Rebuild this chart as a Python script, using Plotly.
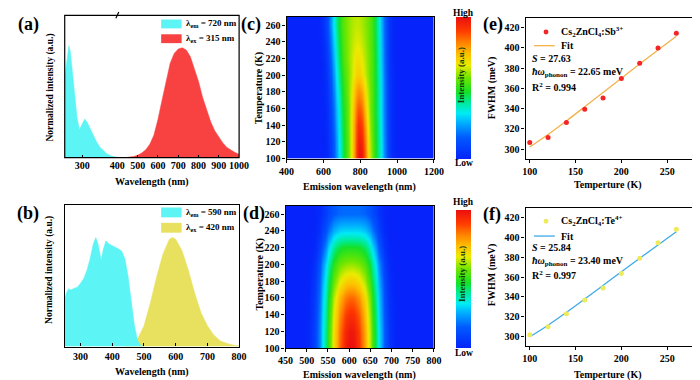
import numpy as np
import plotly.graph_objects as go

W, H = 700, 380
FONT = "Liberation Serif"


def px(x):
    return x / W


def py(y):
    return 1 - y / H


# ---------------- data ----------------
# (a) Cs2ZnCl4:Sb3+ excitation / emission
a_ex_wl = [250, 253, 257, 262, 266, 270, 275, 280, 285, 292, 300, 307, 315, 322, 330, 340, 350, 360, 370, 380, 390, 400]
a_ex_int = [0.72, 0.80, 0.92, 1.0, 0.95, 0.82, 0.64, 0.47, 0.36, 0.25, 0.30, 0.345, 0.31, 0.26, 0.21, 0.145, 0.095, 0.06, 0.035, 0.018, 0.007, 0.0]
a_em_wl = [440, 460, 480, 500, 520, 540, 560, 580, 600, 620, 640, 660, 680, 700, 720, 740, 760, 780, 800, 820, 840, 860, 880, 900, 920, 940, 960, 980, 1000]
a_em_int = [0.0, 0.004, 0.01, 0.02, 0.04, 0.07, 0.12, 0.2, 0.34, 0.51, 0.69, 0.84, 0.93, 0.97, 0.98, 0.96, 0.90, 0.79, 0.68, 0.54, 0.43, 0.32, 0.24, 0.18, 0.13, 0.09, 0.065, 0.045, 0.03]

# (b) Cs2ZnCl4:Te4+ excitation / emission
b_ex_wl = [250, 255, 262, 270, 280, 290, 300, 310, 320, 330, 340, 348, 355, 365, 372, 380, 390, 400, 410, 420, 430, 440, 450, 460, 470, 480, 490, 500]
b_ex_int = [0.435, 0.49, 0.53, 0.52, 0.535, 0.545, 0.58, 0.625, 0.70, 0.805, 0.94, 1.0, 0.94, 0.795, 0.895, 0.97, 0.94, 0.925, 0.915, 0.895, 0.874, 0.805, 0.64, 0.40, 0.19, 0.054, 0.01, 0.0]
b_em_wl = [440, 450, 480, 500, 520, 540, 560, 580, 590, 600, 620, 640, 660, 680, 700, 720, 740, 760, 780, 800]
b_em_int = [0.0, 0.003, 0.07, 0.19, 0.40, 0.64, 0.85, 0.985, 1.0, 0.985, 0.88, 0.70, 0.49, 0.31, 0.19, 0.105, 0.054, 0.03, 0.015, 0.006]

# (c), (d) temperature-dependent emission maps, read per temperature:
# band centre (nm), broad-band half width (nm), broad-band level, core level, core width (nm)
temps = [100, 120, 140, 160, 180, 200, 220, 240, 260]
c_center = [800, 799, 797, 795, 793, 790, 787, 784, 781]
c_width = [133, 133, 134, 135, 136, 137, 138, 140, 142]
c_broad = [0.55, 0.55, 0.55, 0.55, 0.56, 0.57, 0.58, 0.58, 0.58]
c_core = [0.45, 0.42, 0.38, 0.32, 0.24, 0.14, 0.10, 0.07, 0.05]
c_core_w = [30, 30, 30, 30, 30, 30, 30, 30, 30]
d_center = [604, 604, 604, 604, 604, 604, 604, 604, 604]
d_width = [73, 73, 72, 71, 70, 68, 64, 62, 62]
d_broad = [0.55, 0.55, 0.55, 0.55, 0.54, 0.52, 0.45, 0.30, 0.17]
d_core = [0.45, 0.43, 0.38, 0.30, 0.18, 0.08, 0.03, 0.0, 0.0]
d_core_w = [30, 30, 30, 30, 30, 30, 30, 30, 30]

# (e), (f) FWHM vs temperature
e_fwhm = [306.5, 311.4, 326.2, 339.4, 350.4, 369.7, 384.9, 400.0, 414.5]
e_fit = [302.05, 314.38, 327.82, 341.79, 355.94, 370.09, 384.08, 397.87, 411.42]
f_fwhm = [302, 310, 323, 337, 349, 363.5, 379, 394.5, 408]
f_fit = [299.95, 311.62, 324.44, 337.86, 351.52, 365.22, 378.82, 392.23, 405.43]

# ---------------- colours ----------------
CYAN = "#5CF4F4"
RED = "#F84242"
YEL = "#E8E15F"
rainbow = [
    [0.0, "rgb(5,35,250)"], [0.15, "rgb(0,90,255)"], [0.25, "rgb(0,170,255)"],
    [0.32, "rgb(0,235,245)"], [0.40, "rgb(0,235,150)"], [0.47, "rgb(20,225,40)"],
    [0.57, "rgb(110,230,0)"], [0.66, "rgb(235,235,0)"], [0.74, "rgb(255,190,0)"],
    [0.82, "rgb(255,130,0)"], [0.90, "rgb(255,60,0)"], [1.0, "rgb(235,15,15)"],
]


def band_map(wl, centers, widths, broads, cores, core_ws):
    wl = np.asarray(wl, float)
    rows = []
    for c, w, b, n, s in zip(centers, widths, broads, cores, core_ws):
        x = wl - c
        rows.append(b * np.exp(-(x / w) ** 4) + n * np.exp(-0.5 * (x / s) ** 2))
    return np.array(rows)


c_wl = np.arange(400, 1201, 4)
d_wl = np.arange(450, 801, 2)
c_z = band_map(c_wl, c_center, c_width, c_broad, c_core, c_core_w)
d_z = band_map(d_wl, d_center, d_width, d_broad, d_core, d_core_w)

fig = go.Figure()

# (a)
fig.add_trace(go.Scatter(x=a_ex_wl, y=a_ex_int, mode="lines", fill="tozeroy",
                         line=dict(color=CYAN, width=0.5), fillcolor=CYAN, xaxis="x", yaxis="y"))
fig.add_trace(go.Scatter(x=a_em_wl, y=a_em_int, mode="lines", fill="tozeroy",
                         line=dict(color=RED, width=0.5), fillcolor=RED, xaxis="x2", yaxis="y"))
# (b)
fig.add_trace(go.Scatter(x=b_em_wl, y=b_em_int, mode="lines", fill="tozeroy",
                         line=dict(color=YEL, width=0.5), fillcolor=YEL, xaxis="x3", yaxis="y3"))
fig.add_trace(go.Scatter(x=b_ex_wl, y=b_ex_int, mode="lines", fill="tozeroy",
                         line=dict(color=CYAN, width=0.5), fillcolor=CYAN, xaxis="x3", yaxis="y3"))


def cbar(top, bottom):
    return dict(x=px(452), xanchor="left", y=py((top + bottom) / 2), yanchor="middle",
                len=bottom - top, lenmode="pixels", thickness=15, thicknessmode="pixels",
                showticklabels=False, ticks="", outlinewidth=0, xpad=0, ypad=0)


# (c)
fig.add_trace(go.Heatmap(x=c_wl, y=temps, z=c_z, zmin=0, zmax=1, zsmooth="best",
                         colorscale=rainbow, colorbar=cbar(10, 152), xaxis="x4", yaxis="y4"))
# (d)
fig.add_trace(go.Heatmap(x=d_wl, y=temps, z=d_z, zmin=0, zmax=1, zsmooth="best",
                         colorscale=rainbow, colorbar=cbar(206, 344), xaxis="x5", yaxis="y5"))
# (e)
fig.add_trace(go.Scatter(x=temps, y=e_fit, mode="lines", line=dict(color="#F2B24A", width=1.3, shape="spline"),
                         xaxis="x6", yaxis="y6"))
fig.add_trace(go.Scatter(x=temps, y=e_fwhm, mode="markers", marker=dict(color="#F52525", size=5),
                         xaxis="x6", yaxis="y6"))
# (f)
fig.add_trace(go.Scatter(x=temps, y=f_fit, mode="lines", line=dict(color="#3FAAEA", width=1.3, shape="spline"),
                         xaxis="x7", yaxis="y7"))
fig.add_trace(go.Scatter(x=temps, y=f_fwhm, mode="markers", marker=dict(color="#EEEA5C", size=5),
                         xaxis="x7", yaxis="y7"))

tickfont = dict(family=FONT, size=10, color="black", weight="bold")


def ax(**kw):
    d = dict(showline=True, linecolor="black", linewidth=1.2, mirror=True, showgrid=False,
             zeroline=False, tickfont=tickfont, ticks="outside", ticklen=3, tickwidth=1,
             tickcolor="black")
    d.update(kw)
    return d


layout = dict(
    width=W, height=H, margin=dict(l=0, r=0, t=0, b=0), showlegend=False,
    paper_bgcolor="white", plot_bgcolor="white",
    xaxis=ax(domain=[px(50), px(104)], range=[250, 400], tickvals=[300], ticks="inside",
             showline=False, anchor="y"),
    xaxis2=ax(domain=[px(104), px(229)], range=[400, 1000], tickvals=[400, 500, 600, 700, 800, 900, 1000],
              ticks="inside", showline=False, anchor="y"),
    yaxis=ax(domain=[py(152), py(7.5)], range=[0, 1.27], showticklabels=False, ticks="",
             showline=False, anchor="x"),
    xaxis3=ax(domain=[px(50), px(229)], range=[250, 800], tickvals=[300, 400, 500, 600, 700, 800],
              ticks="inside", anchor="y3"),
    yaxis3=ax(domain=[py(344), py(200)], range=[0, 1.3], showticklabels=False, ticks="", anchor="x3"),
    xaxis4=ax(domain=[px(277.7), px(429)], range=[400, 1200], tickvals=[400, 600, 800, 1000, 1200], anchor="y4"),
    yaxis4=ax(domain=[py(153), py(8.8)], range=[100, 270], tickvals=list(range(100, 261, 20)), anchor="x4"),
    xaxis5=ax(domain=[px(276.7), px(429)], range=[450, 800], tickvals=list(range(450, 801, 50)), anchor="y5"),
    yaxis5=ax(domain=[py(345.7), py(200.8)], range=[100, 270], tickvals=list(range(100, 261, 20)), anchor="x5"),
    xaxis6=ax(domain=[px(523), px(699)], range=[95.4, 282.6], tickvals=[100, 150, 200, 250], anchor="y6"),
    yaxis6=ax(domain=[py(153), py(10)], range=[290.6, 429.7], tickvals=list(range(300, 421, 20)), anchor="x6"),
    xaxis7=ax(domain=[px(523), px(699)], range=[95.4, 282.6], tickvals=[100, 150, 200, 250], anchor="y7"),
    yaxis7=ax(domain=[py(343.3), py(203.3)], range=[290.8, 429.3], tickvals=list(range(300, 421, 20)), anchor="x7"),
)
fig.update_layout(**layout)

shapes = []
# box of (a) with break mark
shapes.append(dict(type="rect", xref="paper", yref="paper", x0=px(50), x1=px(229), y0=py(152), y1=py(7.5),
                   line=dict(color="black", width=1.2)))
shapes.append(dict(type="line", xref="paper", yref="paper", x0=px(102.5), x1=px(105.5), y0=py(10.5), y1=py(4),
                   line=dict(color="black", width=1.2)))
# legend swatches (a), (b)
for (x0, x1, y0, y1, col) in [(149, 170, 11.7, 20.7, CYAN), (149, 170, 26.7, 35.7, RED),
                               (149, 170, 202.7, 212.7, CYAN), (149, 170, 218.3, 228.3, YEL)]:
    shapes.append(dict(type="rect", xref="paper", yref="paper", x0=px(x0), x1=px(x1), y0=py(y1), y1=py(y0),
                       fillcolor=col, line=dict(width=0)))
# legend (e), (f)
for (yd, yl, dcol, lcol) in [(24.3, 38.3, "#F52525", "#F2B24A"), (216.7, 231.7, "#EEEA5C", "#3FAAEA")]:
    shapes.append(dict(type="circle", xref="paper", yref="paper", x0=px(541.5), x1=px(546.5),
                       y0=py(yd + 2.5), y1=py(yd - 2.5), fillcolor=dcol, line=dict(width=0)))
    shapes.append(dict(type="line", xref="paper", yref="paper", x0=px(531.7), x1=px(553), y0=py(yl), y1=py(yl),
                       line=dict(color=lcol, width=1.3)))
fig.update_layout(shapes=shapes)

ann = []


def text(x, y, s, size=10, anchor="center", angle=0, color="black"):
    ann.append(dict(x=px(x), y=py(y), xref="paper", yref="paper", text=s, showarrow=False,
                    xanchor=anchor, yanchor="middle", textangle=angle,
                    font=dict(family=FONT, size=size, color=color, weight="bold")))


# panel labels
for lab, x, y in [("(a)", 12.5, 16.3), ("(b)", 12.8, 208.8), ("(c)", 241.7, 16.7),
                  ("(d)", 244, 209), ("(e)", 489.5, 16.7), ("(f)", 489, 209.5)]:
    text(x, y, lab, size=18)

# axis titles
text(35, 80.8, "Normalized intensity (a.u.)", size=9.5, angle=-90)
text(140, 177, "Wavelength (nm)", size=10)
text(35, 266, "Normalized intensity (a.u.)", size=9.5, angle=-90)
text(140, 370, "Wavelength (nm)", size=10)
text(249, 81, "Temperature (K)", size=10, angle=-90)
text(352.5, 181.7, "Emission wavelength (nm)", size=10)
text(249.5, 270.8, "Temperature (K)", size=10, angle=-90)
text(352.5, 372.7, "Emission wavelength (nm)", size=10)
text(488, 81, "FWHM (meV)", size=10, angle=-90)
text(608, 180, "Temperture (K)", size=10)
text(488, 271, "FWHM (meV)", size=10, angle=-90)
text(607.5, 372.7, "Temperture (K)", size=10)

# legends (a), (b)
text(172, 16.2, "λ<sub>em</sub> = 720 nm", size=9, anchor="left")
text(172, 31.2, "λ<sub>ex</sub> = 315 nm", size=9, anchor="left")
text(172, 207.7, "λ<sub>em</sub> = 590 nm", size=9, anchor="left")
text(172, 223.3, "λ<sub>ex</sub> = 420 nm", size=9, anchor="left")

# colorbar labels
for top, bot, mid in [(5, 157, 68), (197.5, 350.5, 270)]:
    text(459.5, top, "High", size=9.5)
    text(459.5, bot, "Low", size=9.5)
    text(457, mid, "Intensity (a.u.)", size=9, angle=-90, color="#0b3d0b")

# (e) legend and stats
text(557, 24.3, "Cs<sub>2</sub>ZnCl<sub>4</sub>:Sb<sup>3+</sup>", size=10, anchor="left")
text(557, 38.3, "Fit", size=10, anchor="left")
text(528, 51.7, "<i>S</i> = 27.63", size=10, anchor="left")
text(528, 65.7, "<i>ħω</i><sub>phonon</sub> = 22.65 meV", size=10, anchor="left")
text(528, 80, "R<sup>2</sup> = 0.994", size=10, anchor="left")
# (f)
text(557, 216.7, "Cs<sub>2</sub>ZnCl<sub>4</sub>:Te<sup>4+</sup>", size=10, anchor="left")
text(557, 231.7, "Fit", size=10, anchor="left")
text(528, 243, "<i>S</i> = 25.84", size=10, anchor="left")
text(528, 258, "<i>ħω</i><sub>phonon</sub> = 23.40 meV", size=10, anchor="left")
text(528, 271.7, "R<sup>2</sup> = 0.997", size=10, anchor="left")

fig.update_layout(annotations=ann)
fig.write_html("out.html")
